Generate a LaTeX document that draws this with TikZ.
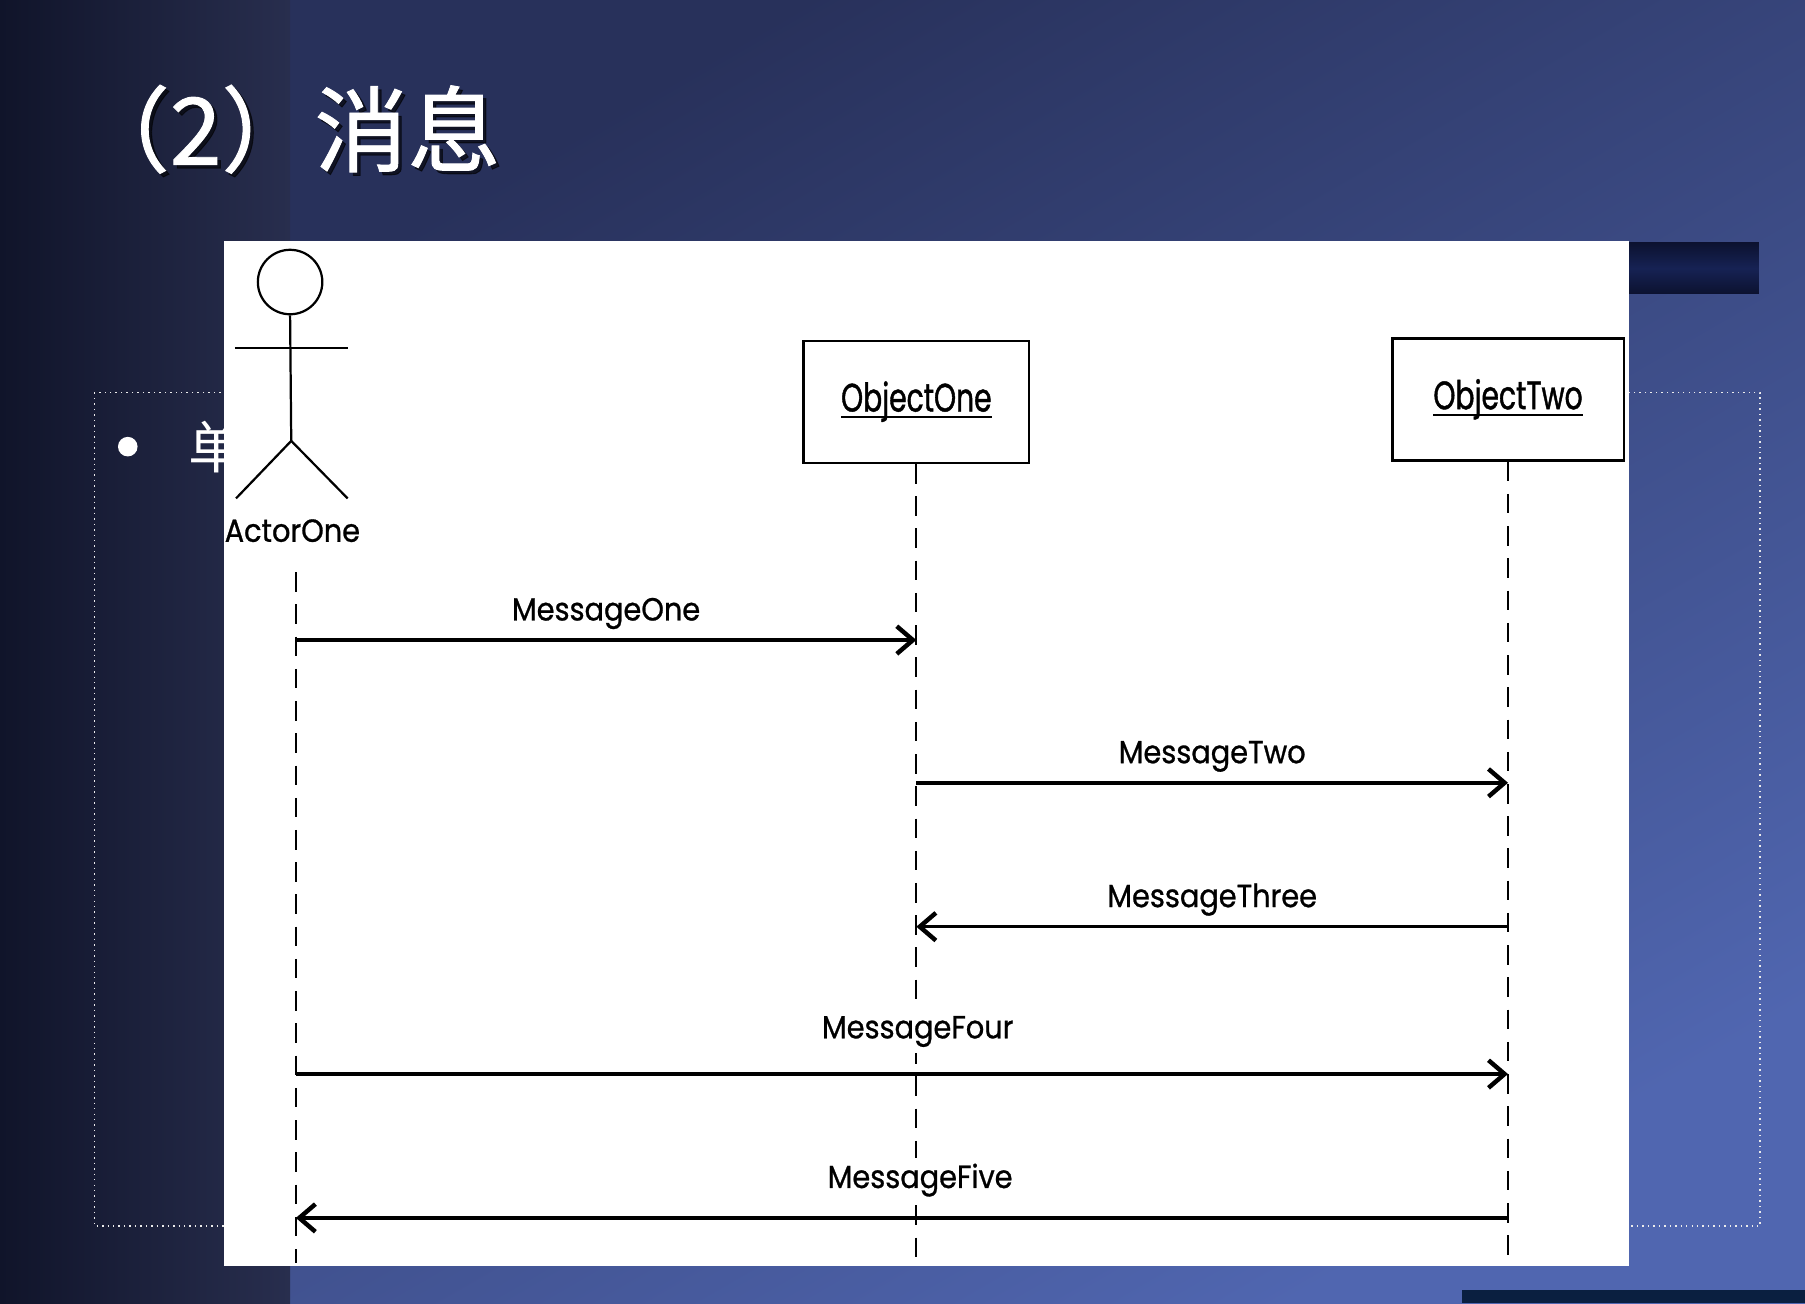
\documentclass[tikz,border=0pt]{standalone}
\usepackage{fontspec}
\usepackage{tikz}
\usetikzlibrary{calc}
\usetikzlibrary{arrows.meta}
\usetikzlibrary{positioning}
\newfontfamily\cjktitle[FakeBold=1]{Noto Sans CJK SC}
\newfontfamily\cjkbody{Noto Sans CJK SC}
\newfontfamily\umlfont[FakeStretch=0.90, FakeBold=0.8]{Poppins}
\newfontfamily\objfont[FakeStretch=0.71, FakeBold=1]{Poppins}
\definecolor{stripL}{HTML}{10142A}
\definecolor{stripR}{HTML}{282E4E}
\definecolor{slideA}{HTML}{28315B}
\definecolor{slideB}{HTML}{5066B0}
\definecolor{barmid}{HTML}{162254}
\definecolor{baredge}{HTML}{0C1230}
\definecolor{footbar}{HTML}{0A1F40}
\tikzset{
    lifeline/.style={black, line width=0.55pt, dash pattern=on 0.17cm off 0.11cm},
    msg/.style={black, line width=0.85pt, -{Straight Barb[length=0.14cm, width=0.24cm, line width=1.1pt]}},
    objbox/.style={draw=black, line width=0.6pt, fill=white, minimum height=1.06cm, inner sep=0pt,
                   text height=0.24cm, text depth=0.07cm, font=\objfont\fontsize{9.8}{11}\selectfont},
    msglabel/.style={font=\umlfont\fontsize{7.9}{9}\selectfont, anchor=base, yshift=0.17cm,
                     inner sep=1.5pt, fill=white},
    limb/.style={black, line width=0.55pt}
}
\begin{document}
\begin{tikzpicture}
            \useasboundingbox (0,0) rectangle (15.68,-11.32);
            % Slide background
            \shade[top color=slideA, bottom color=slideB, shading angle=30]     (2.52, 0.00) rectangle (15.68,-11.32);
            \shade[left color=stripL, right color=stripR]                       (0.00, 0.00) rectangle ( 2.52,-11.32);
            \shade[top color=baredge, bottom color=baredge, middle color=barmid] (14.10,-2.11) rectangle (15.28,-2.55);
            \fill[footbar]                                                      (12.70,-11.21) rectangle (15.68,-11.32);
            \draw[white!85!gray, line width=0.35pt, densely dotted]             ( 0.82,-3.41) rectangle (15.29,-10.65);
            % Title
            \node[anchor=base west, inner sep=0pt, text=black, opacity=0.6] (titleshade) at (0.69,-1.46) {\cjktitle\fontsize{23}{26}\selectfont （2）消息};
            \node[anchor=base west, inner sep=0pt, text=white]              (title)      at (0.66,-1.43) {\cjktitle\fontsize{23}{26}\selectfont （2）消息};
            % Bullet, mostly hidden
            \node[circle, fill=white, inner sep=0pt, minimum size=0.17cm] (bullet) at (1.11,-3.88) {};
            \node[anchor=west, inner sep=0pt, text=white, font=\cjkbody\fontsize{14}{16}\selectfont] (bulletword) at (1.63,-3.88) {单};
            % Diagram sheet
            \fill[white]                                                        ( 1.95,-2.09) rectangle (14.15,-11.00);
            % Actor
            \node[circle, draw, line width=0.55pt, minimum size=0.56cm, inner sep=0pt] (head) at (2.52,-2.45) {};
            \coordinate (hip)    at (2.53,-3.83);
            \coordinate (lhand)  at (2.04,-3.02);
            \coordinate (rhand)  at (3.02,-3.02);
            \coordinate (lfoot)  at (2.05,-4.33);
            \coordinate (rfoot)  at (3.02,-4.33);
            \draw[limb] (head.south) -- (hip);
            \draw[limb] (lhand) -- (rhand);
            \draw[limb] (lfoot) -- (hip) -- (rfoot);
            \node[font=\umlfont\fontsize{7.9}{9}\selectfont, inner sep=0pt] (actor) at (2.54,-4.61) {ActorOne};
            % Objects
            \node[objbox, minimum width=1.96cm] (objone) at ( 7.96,-3.49) {\underline{\smash{ObjectOne}}};
            \node[objbox, minimum width=2.01cm] (objtwo) at (13.10,-3.47) {\underline{\smash{ObjectTwo}}};
            % Lifelines
            \coordinate (lA)    at (2.57,-4.97);
            \coordinate (lAend) at (2.57,-10.97);
            \draw[lifeline] (lA) -- (lAend);
            \draw[lifeline] (objone.south) -- (objone.south |- lAend);
            \draw[lifeline] (objtwo.south) -- (objtwo.south |- lAend);
            % Message rows
            \coordinate (r1) at (0,-5.56);
            \coordinate (r2) at (0,-6.80);
            \coordinate (r3) at (0,-8.05);
            \coordinate (r4) at (0,-9.33);
            \coordinate (r5) at (0,-10.58);
            \draw[msg] (lA |- r1)     -- (objone |- r1) node[midway,   msglabel] (mone)   {MessageOne};
            \draw[msg] (objone |- r2) -- (objtwo |- r2) node[midway,   msglabel] (mtwo)   {MessageTwo};
            \draw[msg] (objtwo |- r3) -- (objone |- r3) node[midway,   msglabel] (mthree) {MessageThree};
            \draw[msg] (lA |- r4)     -- (objtwo |- r4) node[pos=0.513, msglabel, yshift=0.14cm] (mfour)  {MessageFour};
            \draw[msg] (objtwo |- r5) -- (lA |- r5)     node[pos=0.485, msglabel, yshift=0.09cm] (mfive)  {MessageFive};
\end{tikzpicture}
\end{document}
